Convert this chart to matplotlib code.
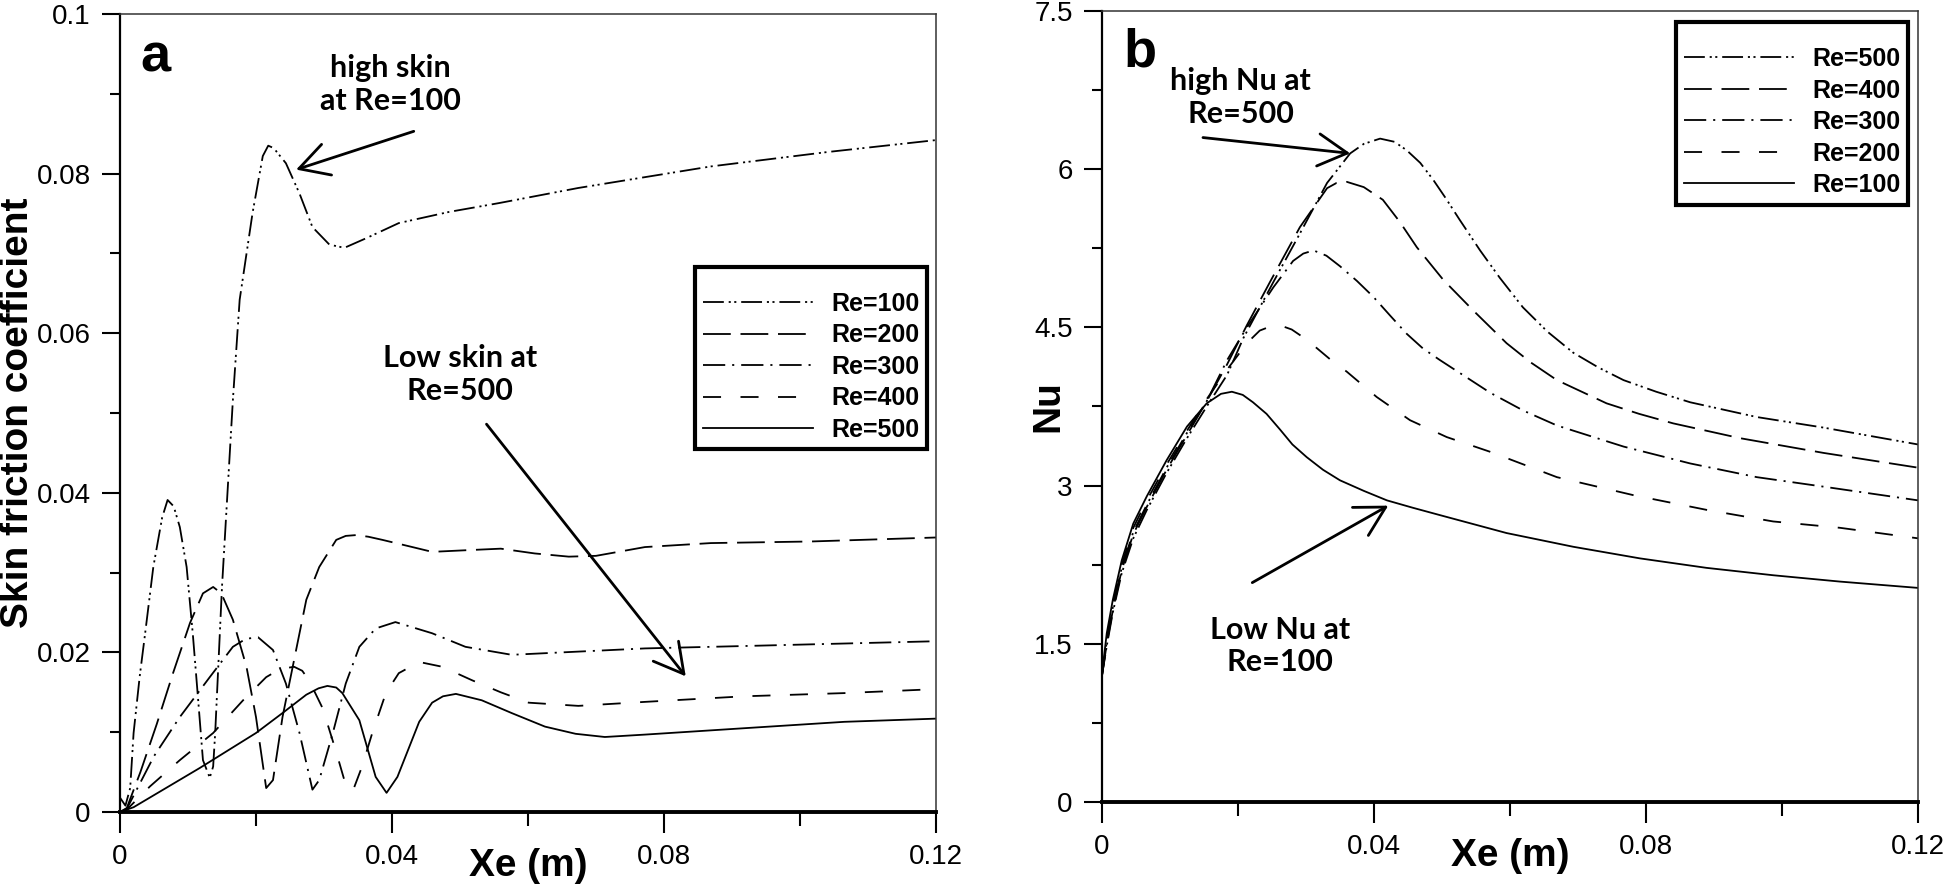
import numpy as np
import matplotlib.pyplot as plt
from matplotlib.ticker import MultipleLocator, FuncFormatter

plt.rcParams['font.family'] = ['Liberation Sans', 'DejaVu Sans']
plt.rcParams['lines.scale_dashes'] = False  # dash lengths in points

# ---- (a) skin friction coefficient vs Xe
x_a100 = [0, 0.0008, 0.0015, 0.0020, 0.0029, 0.0037, 0.0049, 0.0062, 0.0070, 0.0079, 0.0088, 0.0098,
          0.0107, 0.0115, 0.0122, 0.0132, 0.0137, 0.0140, 0.0150, 0.0166, 0.0176, 0.0195, 0.0210,
          0.0218, 0.0226, 0.0244, 0.0264, 0.0283, 0.0308, 0.0330, 0.0362, 0.0410, 0.0484, 0.0557,
          0.0674, 0.0869, 0.1040, 0.1200]
y_a100 = [0.0018, 0.0008, 0.0030, 0.0099, 0.0170, 0.0224, 0.0307, 0.0369, 0.0391, 0.0383, 0.0357, 0.0307,
          0.0224, 0.0140, 0.0065, 0.0043, 0.0057, 0.0099, 0.0282, 0.0516, 0.0642, 0.0751, 0.0822,
          0.0835, 0.0832, 0.0813, 0.0775, 0.0733, 0.0711, 0.0707, 0.0719, 0.0738, 0.0752, 0.0763,
          0.0782, 0.0809, 0.0827, 0.0842]

x_a200 = [0, 0.0010, 0.0030, 0.0054, 0.0078, 0.0103, 0.0122, 0.0137, 0.0149, 0.0166, 0.0186, 0.0200,
          0.0215, 0.0225, 0.0239, 0.0254, 0.0274, 0.0293, 0.0318, 0.0332, 0.0347, 0.0365, 0.0386,
          0.0430, 0.0459, 0.0508, 0.0560, 0.0610, 0.0660, 0.0700, 0.0772, 0.0869, 0.1016, 0.1200]
y_a200 = [0, 0.0005, 0.0050, 0.0110, 0.0174, 0.0237, 0.0274, 0.0282, 0.0274, 0.0241, 0.0182, 0.0119,
          0.0030, 0.0040, 0.0119, 0.0182, 0.0266, 0.0307, 0.0341, 0.0346, 0.0347, 0.0345, 0.0341,
          0.0332, 0.0326, 0.0328, 0.0330, 0.0324, 0.0320, 0.0321, 0.0332, 0.0337, 0.0339, 0.0344]

x_a300 = [0, 0.0010, 0.0050, 0.0088, 0.0132, 0.0166, 0.0185, 0.0203, 0.0225, 0.0244, 0.0264, 0.0283,
          0.0293, 0.0313, 0.0332, 0.0352, 0.0376, 0.0405, 0.0459, 0.0508, 0.0576, 0.0625, 0.0772,
          0.0918, 0.1200]
y_a300 = [0, 0.0004, 0.0070, 0.0119, 0.0169, 0.0207, 0.0217, 0.0219, 0.0203, 0.0161, 0.0099, 0.0028,
          0.0040, 0.0099, 0.0161, 0.0207, 0.0230, 0.0238, 0.0224, 0.0207, 0.0197, 0.0199, 0.0205,
          0.0208, 0.0214]

x_a400 = [0, 0.0010, 0.0044, 0.0088, 0.0137, 0.0181, 0.0215, 0.0235, 0.0256, 0.0268, 0.0278, 0.0298,
          0.0317, 0.0334, 0.0344, 0.0356, 0.0371, 0.0391, 0.0410, 0.0440, 0.0474, 0.0518, 0.0560,
          0.0601, 0.0674, 0.0772, 0.0918, 0.1065, 0.1200]
y_a400 = [0, 0.0003, 0.0032, 0.0065, 0.0099, 0.0140, 0.0169, 0.0179, 0.0182, 0.0177, 0.0165, 0.0130,
          0.0078, 0.0028, 0.0030, 0.0057, 0.0099, 0.0149, 0.0174, 0.0188, 0.0182, 0.0165, 0.0150,
          0.0137, 0.0133, 0.0138, 0.0145, 0.0149, 0.0154]

x_a500 = [0, 0.0020, 0.0117, 0.0200, 0.0239, 0.0274, 0.0292, 0.0305, 0.0318, 0.0327, 0.0352, 0.0376,
          0.0392, 0.0408, 0.0440, 0.0459, 0.0475, 0.0494, 0.0532, 0.0576, 0.0625, 0.0670, 0.0713,
          0.0772, 0.0918, 0.1065, 0.1200]
y_a500 = [0, 0.0006, 0.0055, 0.0099, 0.0124, 0.0147, 0.0155, 0.0158, 0.0156, 0.0149, 0.0115, 0.0044,
          0.0024, 0.0044, 0.0113, 0.0137, 0.0145, 0.0148, 0.0140, 0.0124, 0.0107, 0.0098, 0.0094,
          0.0097, 0.0105, 0.0113, 0.0117]

# ---- (b) Nusselt number vs Xe
x_b100 = [0, 0.0007, 0.0016, 0.0029, 0.0046, 0.0066, 0.0095, 0.0125, 0.0154, 0.0175, 0.0191, 0.0207,
          0.0222, 0.0242, 0.0262, 0.0280, 0.0301, 0.0325, 0.0350, 0.0385, 0.0419, 0.0457, 0.0497,
          0.0595, 0.0693, 0.0791, 0.0889, 0.0987, 0.1085, 0.1200]
y_b100 = [1.22, 1.60, 1.92, 2.29, 2.64, 2.90, 3.24, 3.56, 3.78, 3.87, 3.89, 3.86,
          3.79, 3.68, 3.53, 3.39, 3.27, 3.15, 3.05, 2.95, 2.86, 2.79, 2.72,
          2.55, 2.42, 2.31, 2.22, 2.15, 2.09, 2.03]

x_b200 = [0, 0.0007, 0.0016, 0.0029, 0.0046, 0.0066, 0.0095, 0.0125, 0.0154, 0.0184, 0.0213, 0.0232,
          0.0252, 0.0266, 0.0279, 0.0295, 0.0311, 0.0335, 0.0360, 0.0404, 0.0453, 0.0507, 0.0571,
          0.0669, 0.0781, 0.0889, 0.0987, 0.1085, 0.1200]
y_b200 = [1.20, 1.55, 1.88, 2.25, 2.60, 2.86, 3.20, 3.52, 3.82, 4.10, 4.35, 4.47,
          4.52, 4.51, 4.48, 4.41, 4.33, 4.20, 4.08, 3.84, 3.62, 3.46, 3.32,
          3.08, 2.91, 2.77, 2.66, 2.60, 2.50]

x_b300 = [0, 0.0007, 0.0016, 0.0029, 0.0046, 0.0066, 0.0095, 0.0125, 0.0154, 0.0184, 0.0213, 0.0252,
          0.0281, 0.0296, 0.0311, 0.0330, 0.0350, 0.0375, 0.0399, 0.0424, 0.0448, 0.0472, 0.0497,
          0.0571, 0.0620, 0.0669, 0.0767, 0.0865, 0.0963, 0.1061, 0.1200]
y_b300 = [1.20, 1.52, 1.85, 2.22, 2.56, 2.82, 3.17, 3.50, 3.80, 4.19, 4.50, 4.88,
          5.13, 5.20, 5.23, 5.18, 5.08, 4.94, 4.79, 4.61, 4.44, 4.30, 4.19,
          3.88, 3.71, 3.57, 3.37, 3.21, 3.08, 2.99, 2.86]

x_b400 = [0, 0.0007, 0.0016, 0.0029, 0.0046, 0.0066, 0.0095, 0.0125, 0.0154, 0.0184, 0.0213, 0.0247,
          0.0291, 0.0331, 0.0345, 0.0360, 0.0385, 0.0413, 0.0438, 0.0463, 0.0502, 0.0546, 0.0595,
          0.0630, 0.0669, 0.0742, 0.0790, 0.0840, 0.0938, 0.1061, 0.1200]
y_b400 = [1.20, 1.50, 1.82, 2.20, 2.54, 2.80, 3.15, 3.48, 3.80, 4.15, 4.52, 4.93,
          5.45, 5.82, 5.87, 5.88, 5.83, 5.71, 5.50, 5.26, 4.95, 4.66, 4.35,
          4.17, 4.00, 3.78, 3.68, 3.59, 3.45, 3.31, 3.17]

x_b500 = [0, 0.0007, 0.0016, 0.0029, 0.0046, 0.0066, 0.0095, 0.0125, 0.0154, 0.0184, 0.0208, 0.0252,
          0.0291, 0.0331, 0.0365, 0.0385, 0.0409, 0.0430, 0.0448, 0.0468, 0.0487, 0.0506, 0.0526,
          0.0556, 0.0585, 0.0619, 0.0655, 0.0693, 0.0730, 0.0767, 0.0815, 0.0865, 0.0963, 0.1061,
          0.1200]
y_b500 = [1.20, 1.48, 1.80, 2.17, 2.50, 2.77, 3.12, 3.45, 3.75, 4.05, 4.40, 4.93,
          5.39, 5.87, 6.15, 6.24, 6.29, 6.26, 6.18, 6.06, 5.90, 5.72, 5.52,
          5.23, 4.97, 4.69, 4.46, 4.26, 4.12, 4.00, 3.89, 3.79, 3.65, 3.55,
          3.39]

# line styles (Tecplot-like)
ls_dd = (0, (15, 3.5, 1.5, 2.5, 1.5, 3.5))   # dash dot dot
ls_long = (0, (20, 7))
ls_dashdot = (0, (16, 5, 1.5, 5))
ls_med = (0, (13, 14))
lw = 1.3

fig = plt.figure(figsize=(19.46, 8.91), dpi=100)
ax1 = fig.add_axes([0.06166, 0.08866, 0.41932, 0.89562])
ax2 = fig.add_axes([0.56629, 0.09989, 0.41932, 0.88777])

ax1.plot(x_a100, y_a100, color='k', lw=lw, ls=ls_dd, label='Re=100')
ax1.plot(x_a200, y_a200, color='k', lw=lw, ls=ls_long, label='Re=200')
ax1.plot(x_a300, y_a300, color='k', lw=lw, ls=ls_dashdot, label='Re=300')
ax1.plot(x_a400, y_a400, color='k', lw=lw, ls=ls_med, label='Re=400')
ax1.plot(x_a500, y_a500, color='k', lw=lw, ls='-', label='Re=500')

ax2.plot(x_b500, y_b500, color='k', lw=lw, ls=ls_dd, label='Re=500')
ax2.plot(x_b400, y_b400, color='k', lw=lw, ls=ls_long, label='Re=400')
ax2.plot(x_b300, y_b300, color='k', lw=lw, ls=ls_dashdot, label='Re=300')
ax2.plot(x_b200, y_b200, color='k', lw=lw, ls=ls_med, label='Re=200')
ax2.plot(x_b100, y_b100, color='k', lw=lw, ls='-', label='Re=100')

fmt = FuncFormatter(lambda v, p: '%g' % round(v, 4))
for ax, ytop, ystep in [(ax1, 0.1, 0.02), (ax2, 7.5, 1.5)]:
    ax.set_xlim(0, 0.12)
    ax.set_ylim(0, ytop)
    ax.xaxis.set_major_locator(MultipleLocator(0.04))
    ax.xaxis.set_minor_locator(MultipleLocator(0.02))
    ax.yaxis.set_major_locator(MultipleLocator(ystep))
    ax.yaxis.set_minor_locator(MultipleLocator(ystep / 2))
    ax.xaxis.set_major_formatter(fmt)
    ax.yaxis.set_major_formatter(fmt)
    ax.tick_params(axis='both', which='both', direction='out', width=1.5, labelsize=20)
    ax.tick_params(axis='x', which='major', length=15, pad=8)
    ax.tick_params(axis='x', which='minor', length=10)
    ax.tick_params(axis='y', which='major', length=13, pad=8)
    ax.tick_params(axis='y', which='minor', length=7)
    ax.spines['left'].set_linewidth(1.6)
    ax.spines['bottom'].set_linewidth(2.8)
    for s in ['top', 'right']:
        ax.spines[s].set_linewidth(1.1)
        ax.spines[s].set_color('#333333')
    ax.set_xlabel('Xe (m)', fontsize=28, fontweight='bold')
    ax.xaxis.set_label_coords(0.5, -0.045)

ax1.set_ylabel('Skin friction coefficient', fontsize=28, fontweight='bold', va='center')
ax1.yaxis.set_label_coords(-0.125, 0.5)
ax2.set_ylabel('Nu', fontsize=28, fontweight='bold', va='center')
ax2.yaxis.set_label_coords(-0.066, 0.5)

# panel letters
ax1.text(0.043, 0.945, 'a', transform=ax1.transAxes, fontsize=39, fontweight='bold',
         ha='center', va='center')
ax2.text(0.047, 0.947, 'b', transform=ax2.transAxes, fontsize=39, fontweight='bold',
         ha='center', va='center')

# legends
for ax, anchor in [(ax1, (0.989, 0.683)), (ax2, (0.988, 0.986))]:
    leg = ax.legend(loc='upper right', bbox_to_anchor=anchor, borderaxespad=0,
                    frameon=True, fancybox=False, edgecolor='black', framealpha=1,
                    prop={'weight': 'bold', 'size': 18}, handlelength=4.4,
                    handletextpad=0.75, labelspacing=0.3, borderpad=0.3,
                    title=' ', title_fontsize=7)
    leg.get_frame().set_linewidth(3)

# annotations
note_font = dict(family=['Lato', 'DejaVu Sans'], fontweight='bold', fontsize=22,
                 ha='center', va='center', linespacing=1.2)
arrow = dict(arrowstyle='->,head_length=1.05,head_width=0.58', lw=2, color='k',
             mutation_scale=20, shrinkA=0, shrinkB=0)

ax1.text(0.0397, 0.0912, 'high skin\nat Re=100', **note_font)
ax1.annotate('', xy=(0.0259, 0.0805), xytext=(0.0432, 0.0853), arrowprops=arrow)
ax1.text(0.0500, 0.0548, 'Low skin at\nRe=500', **note_font)
ax1.annotate('', xy=(0.0832, 0.0170), xytext=(0.0539, 0.0486), arrowprops=arrow)

ax2.text(0.0204, 6.68, 'high Nu at\nRe=500', **note_font)
ax2.annotate('', xy=(0.0365, 6.15), xytext=(0.01485, 6.30), arrowprops=arrow)
ax2.text(0.0262, 1.48, 'Low Nu at\nRe=100', **note_font)
ax2.annotate('', xy=(0.0421, 2.81), xytext=(0.0221, 2.08), arrowprops=arrow)

fig.savefig('out.png', dpi=100)
